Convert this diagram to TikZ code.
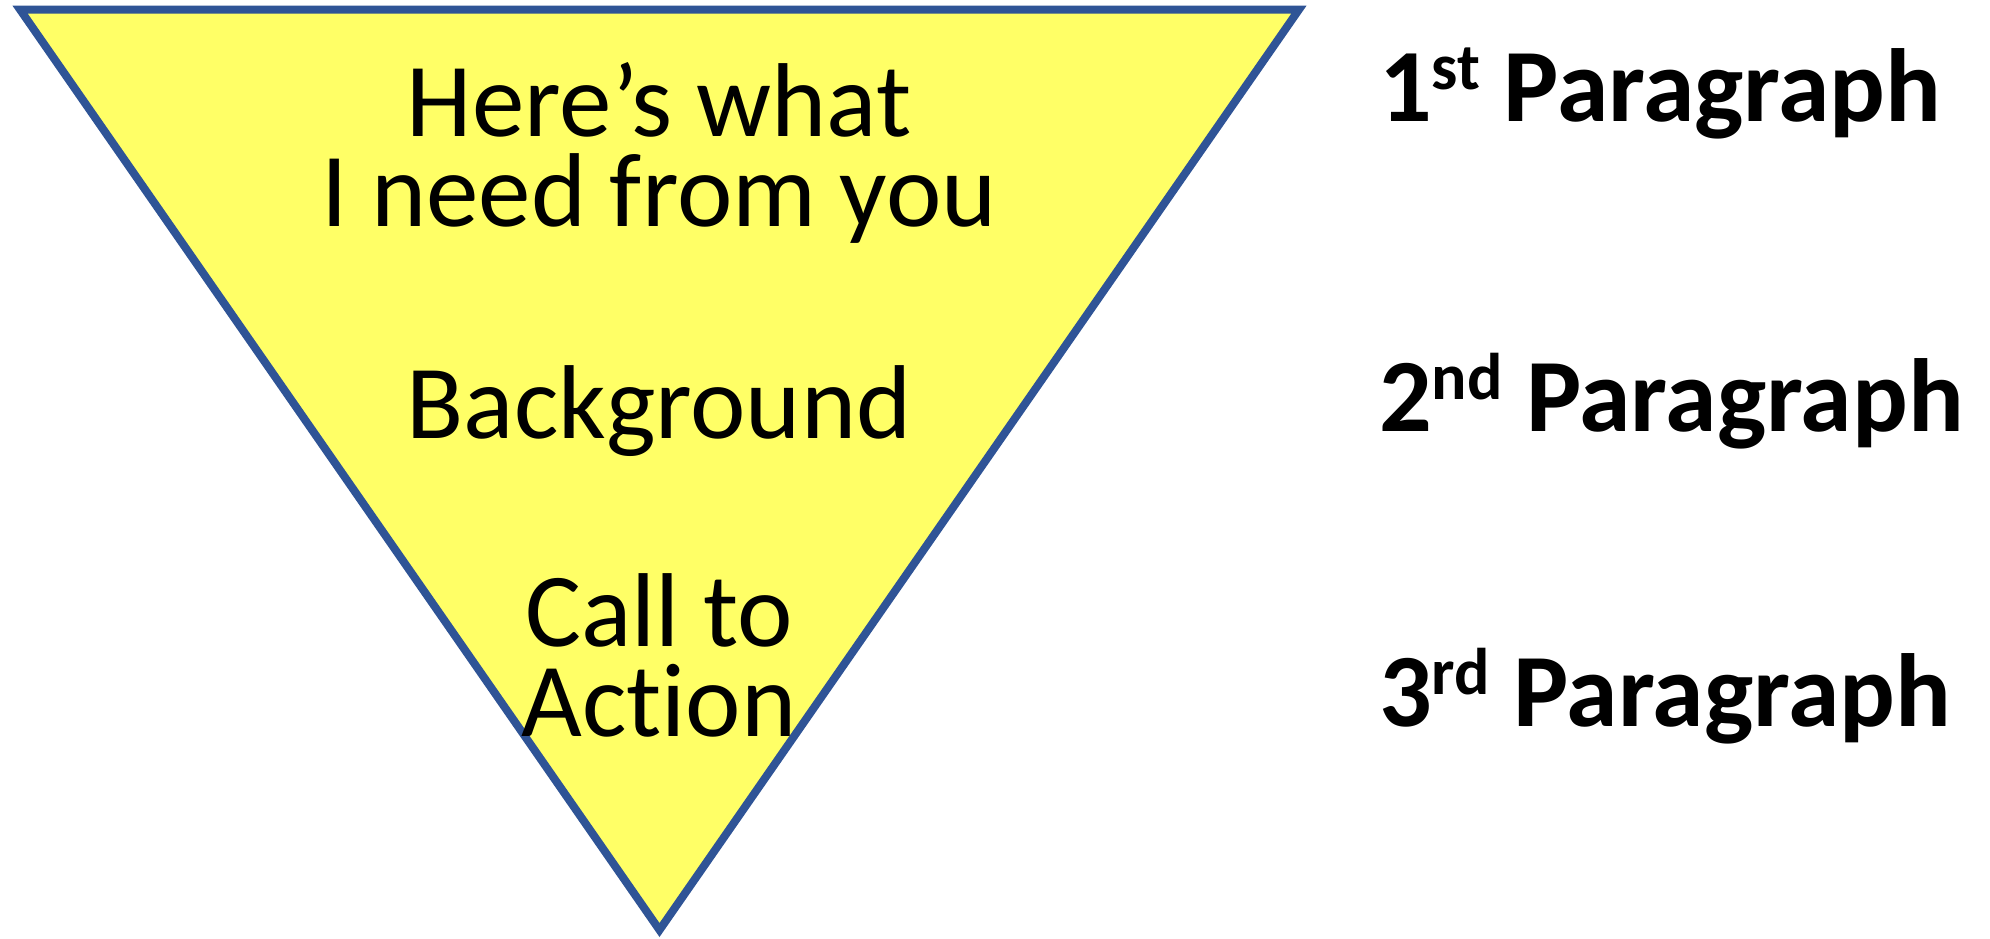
\documentclass[tikz,border=0pt]{standalone}
\usepackage{fontspec}
\setmainfont{Carlito}[Ligatures={NoCommon,NoRare},Contextuals=NoAlternate]
\usepackage{tikz}
\definecolor{jaune}{HTML}{FFFF66}
\definecolor{bleu}{HTML}{2F5496}
\newcommand{\exposant}[1]{\raisebox{0.3em}{\fontsize{66}{66}\selectfont #1}}
\tikzset{
  entonnoir/.style={draw=bleu,fill=jaune,line width=8pt},
  etage/.style={align=center,anchor=base,inner sep=0pt,
                font=\fontsize{105}{90}\selectfont},
  niveau/.style={anchor=base west,inner sep=0pt,
                 font=\fontsize{104}{104}\selectfont\bfseries},
}

\begin{document}
\begin{tikzpicture}[x=1pt,y=-1pt]
  \useasboundingbox (0,0) rectangle (1990,938);
  % funnel (base anchor sits on the last line)
  \filldraw[entonnoir] (20,9.5) -- (1299,9.5) -- (659.5,930) -- cycle;
  \node[etage] (besoin) at (659,226) {Here’s what\\I need from you};
  \node[etage] (contexte) at (659,438) {Background};
  \node[etage] (action) at (659,736) {Call to\\Act\kern0pt ion};
  % paragraph levels
  \node[niveau] (p1) at (1379,121) {1\exposant{st} Paragraph};
  \node[niveau] (p2) at (1379,431) {2\exposant{nd} Paragraph};
  \node[niveau] (p3) at (1379,726) {3\exposant{rd} Paragraph};
\end{tikzpicture}
\end{document}
